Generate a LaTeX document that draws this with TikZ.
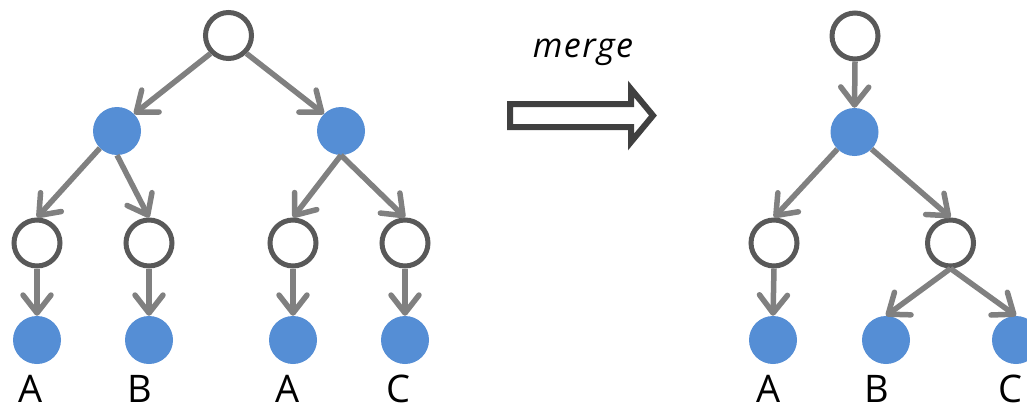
\documentclass[tikz,border=0pt]{standalone}
\usepackage{fontspec}
\setmainfont{Open Sans}
\usetikzlibrary{arrows.meta}
\definecolor{nodeblue}{RGB}{85,142,213}
\definecolor{ringgray}{RGB}{89,89,89}
\definecolor{edgegray}{RGB}{128,128,128}
\definecolor{bigarrow}{RGB}{64,64,64}
\tikzset{
  wnode/.style={circle, draw=ringgray, line width=5pt, fill=white, minimum size=46pt, inner sep=0pt},
  bnode/.style={circle, fill=nodeblue, minimum size=48pt, inner sep=0pt},
  conn/.style={draw=edgegray, line width=5.5pt, -{Straight Barb[length=18pt,width=28pt,round]}},
  lbl/.style={anchor=base, inner sep=0pt, font=\fontsize{38}{45}\selectfont},
  mlbl/.style={anchor=base, inner sep=0pt, font=\fontsize{34}{40}\selectfont\itshape\addfontfeature{LetterSpace=4}},
}
\begin{document}
\begin{tikzpicture}[x=1pt,y=-1pt]
\useasboundingbox (0,0) rectangle (1027,404);
% left tree
\node[wnode] (r0) at (228.5,35.5) {};
\node[bnode] (b1) at (117,131) {};
\node[bnode] (b2) at (341,131) {};
\node[wnode] (w1) at (37,243) {};
\node[wnode] (w2) at (149,243) {};
\node[wnode] (w3) at (293,243) {};
\node[wnode] (w4) at (405,243) {};
\node[bnode] (l1) at (37,340) {};
\node[bnode] (l2) at (149,340) {};
\node[bnode] (l3) at (293,340) {};
\node[bnode] (l4) at (405,340) {};
\node[lbl] (t1) at (31,402) {A};
\node[lbl] (t2) at (140,402) {B};
\node[lbl] (t3) at (287.5,402) {A};
\node[lbl] (t4) at (398,402) {C};
\path[conn] (r0.south west) -- (b1.north east);
\path[conn] (r0.south east) -- (b2.north west);
\path[conn] (b1.south west) -- (w1.north);
\path[conn] (b1.south) -- (w2.north);
\path[conn] (b2.south) -- (w3.north);
\path[conn] (b2.south) -- (w4.north);
\path[conn] (w1.south) -- (l1.north);
\path[conn] (w2.south) -- (l2.north);
\path[conn] (w3.south) -- (l3.north);
\path[conn] (w4.south) -- (l4.north);
% merge arrow
\node[mlbl] (mg) at (583,58) {merge};
\draw[draw=bigarrow, fill=white, line width=6pt, line join=miter]
  (510,104) -- (631,104) -- (631,89) -- (653,115.5) -- (631,142) -- (631,127) -- (510,127) -- cycle;
% right tree
\node[wnode] (R0) at (855,36) {};
\node[bnode] (Rb) at (854.5,132) {};
\node[wnode] (Rw1) at (774,243) {};
\node[wnode] (Rw2) at (950.5,243) {};
\node[bnode] (Rl1) at (773,340) {};
\node[bnode] (Rl2) at (886,340) {};
\node[bnode] (Rl3) at (1016,340) {};
\node[lbl] (T1) at (769,402) {A};
\node[lbl] (T2) at (877,402) {B};
\node[lbl] (T3) at (1010,402) {C};
\path[conn] (R0.south) -- (Rb.north);
\path[conn] (Rb.south west) -- (Rw1.north);
\path[conn] (Rb.south east) -- (Rw2.north);
\path[conn] (Rw1.south) -- (Rl1.north);
\path[conn] (Rw2.south) -- (Rl2.north);
\path[conn] (Rw2.south) -- (Rl3.north);
\end{tikzpicture}
\end{document}
